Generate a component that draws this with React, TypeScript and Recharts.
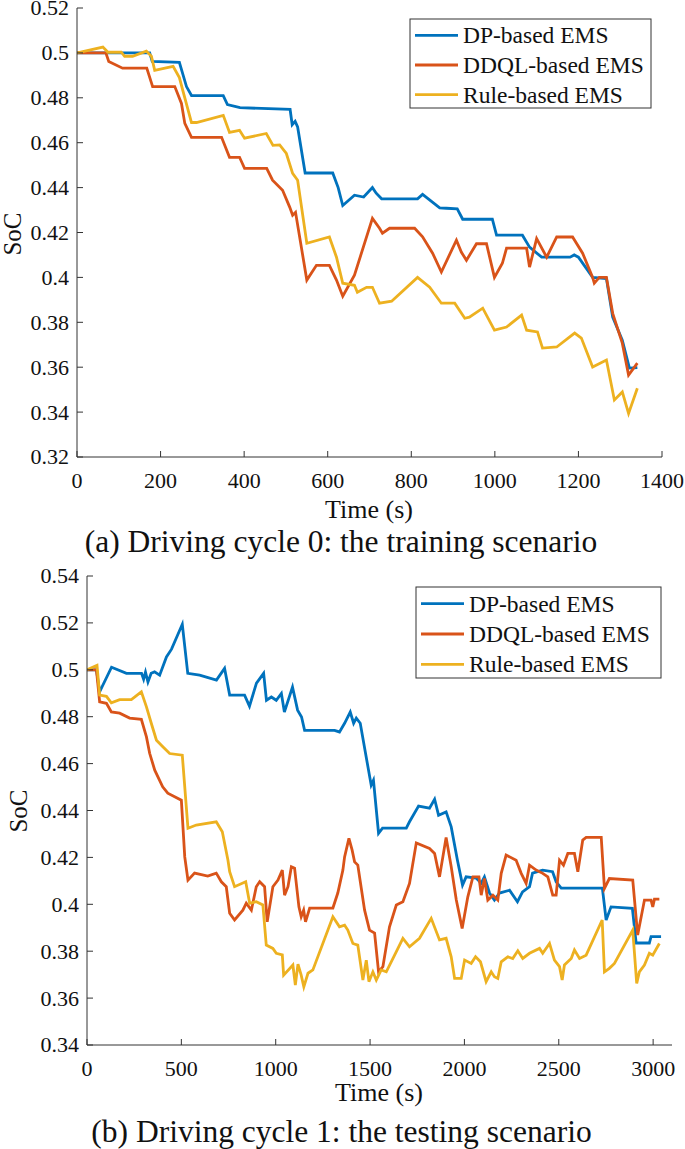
import React from 'react';
import { LineChart, Line, XAxis, YAxis } from 'recharts';

// [time (s), SoC]
const cycle0Dp: [number, number][] = [
  [0, 0.5], [174, 0.5], [180, 0.4962], [245, 0.4958], [262, 0.485], [274, 0.481], [350, 0.481],
  [360, 0.477], [390, 0.4756], [510, 0.4748], [515, 0.468], [522, 0.4695], [528, 0.467],
  [546, 0.4465], [612, 0.4465], [625, 0.44], [636, 0.432], [664, 0.4366], [686, 0.4358],
  [707, 0.44], [716, 0.4375], [729, 0.435], [815, 0.435], [827, 0.437], [868, 0.431],
  [884, 0.4308], [910, 0.4305], [923, 0.4259], [994, 0.4259], [1004, 0.4188], [1066, 0.4188],
  [1083, 0.4135], [1112, 0.409], [1180, 0.409], [1190, 0.41], [1200, 0.409], [1234, 0.4],
  [1267, 0.3995], [1282, 0.3823], [1305, 0.372], [1322, 0.3596], [1341, 0.3598],
];

const cycle0Ddql: [number, number][] = [
  [0, 0.5], [69, 0.5], [76, 0.4962], [109, 0.4932], [167, 0.4932], [181, 0.485], [234, 0.485],
  [250, 0.4775], [258, 0.4686], [274, 0.4624], [346, 0.4624], [365, 0.4535], [389, 0.4535],
  [401, 0.4486], [454, 0.4486], [468, 0.4433], [492, 0.4388], [509, 0.4313], [516, 0.4277],
  [523, 0.429], [550, 0.3988], [573, 0.4054], [604, 0.4054], [621, 0.3988], [636, 0.3916],
  [664, 0.401], [707, 0.4263], [724, 0.4219], [731, 0.4197], [748, 0.4219], [808, 0.4219],
  [827, 0.4181], [851, 0.4108], [872, 0.4024], [908, 0.4166], [920, 0.4112], [932, 0.4076],
  [956, 0.415], [980, 0.415], [999, 0.4], [1018, 0.4063], [1028, 0.413], [1076, 0.413],
  [1083, 0.4046], [1100, 0.4173], [1124, 0.409], [1148, 0.418], [1186, 0.418], [1210, 0.4108],
  [1234, 0.4], [1238, 0.3974], [1250, 0.4], [1267, 0.4], [1282, 0.384], [1305, 0.3707],
  [1320, 0.3565], [1341, 0.3618],
];

const cycle0Rule: [number, number][] = [
  [0, 0.5], [62, 0.5026], [74, 0.5003], [106, 0.5003], [114, 0.4985], [133, 0.4985],
  [166, 0.5008], [178, 0.4985], [186, 0.4922], [230, 0.494], [245, 0.489], [258, 0.48],
  [274, 0.469], [286, 0.469], [350, 0.4722], [365, 0.4646], [389, 0.4655], [401, 0.462],
  [453, 0.4641], [469, 0.4588], [485, 0.459], [501, 0.4552], [516, 0.4463], [528, 0.4433],
  [550, 0.4152], [604, 0.418], [621, 0.409], [636, 0.3974], [664, 0.3965], [671, 0.3934],
  [693, 0.3956], [707, 0.3956], [724, 0.3885], [753, 0.3894], [815, 0.4], [844, 0.3956],
  [872, 0.3885], [904, 0.3885], [928, 0.3818], [939, 0.3823], [971, 0.3863], [999, 0.3765],
  [1028, 0.3779], [1064, 0.3832], [1076, 0.3765], [1102, 0.3757], [1114, 0.3685],
  [1148, 0.369], [1191, 0.3752], [1207, 0.373], [1234, 0.3601], [1267, 0.3632],
  [1286, 0.3454], [1305, 0.349], [1320, 0.3394], [1341, 0.3506],
];

const cycle1Dp: [number, number][] = [
  [0, 0.5], [50, 0.5], [67, 0.4906], [130, 0.5011], [209, 0.4985], [289, 0.4985], [300, 0.496],
  [310, 0.499], [323, 0.4948], [340, 0.4985], [358, 0.4991], [385, 0.4977], [421, 0.5055],
  [448, 0.5088], [505, 0.5194], [534, 0.4985], [597, 0.4977], [686, 0.4956], [729, 0.5006],
  [756, 0.4892], [835, 0.4892], [861, 0.4845], [898, 0.4943], [936, 0.4985], [951, 0.487],
  [977, 0.4884], [1003, 0.487], [1030, 0.4899], [1046, 0.482], [1089, 0.4926], [1116, 0.4828],
  [1137, 0.4799], [1153, 0.4742], [1312, 0.4742], [1338, 0.4735], [1365, 0.4772],
  [1395, 0.482], [1413, 0.4772], [1427, 0.4794], [1448, 0.4772], [1476, 0.4644],
  [1506, 0.4508], [1518, 0.4529], [1545, 0.4303], [1566, 0.4325], [1692, 0.4325],
  [1709, 0.4352], [1757, 0.4419], [1815, 0.441], [1842, 0.4448], [1863, 0.438],
  [1903, 0.4394], [1930, 0.433], [1963, 0.4188], [1990, 0.4082], [2009, 0.4117],
  [2062, 0.4112], [2089, 0.409], [2106, 0.4117], [2133, 0.4048], [2159, 0.4018],
  [2186, 0.4048], [2239, 0.406], [2281, 0.4011], [2308, 0.4053], [2345, 0.4075],
  [2361, 0.4133], [2414, 0.4146], [2467, 0.4139], [2486, 0.4096], [2513, 0.4069],
  [2731, 0.4069], [2751, 0.3933], [2777, 0.3989], [2890, 0.3983], [2910, 0.3835],
  [2980, 0.3835], [2989, 0.3862], [3042, 0.3862],
];

const cycle1Ddql: [number, number][] = [
  [0, 0.5], [50, 0.5], [67, 0.4863], [103, 0.4857], [129, 0.482], [173, 0.4815], [226, 0.4794],
  [288, 0.4789], [315, 0.4714], [332, 0.4644], [359, 0.4572], [401, 0.4501], [428, 0.4474],
  [500, 0.4444], [518, 0.4202], [535, 0.4103], [570, 0.4133], [640, 0.412], [685, 0.4133],
  [712, 0.4096], [738, 0.4075], [756, 0.3962], [782, 0.3933], [826, 0.3975], [844, 0.4005],
  [871, 0.3975], [897, 0.4075], [915, 0.4096], [941, 0.4075], [955, 0.3925], [985, 0.4075],
  [1012, 0.4103], [1035, 0.4146], [1047, 0.4039], [1065, 0.4075], [1083, 0.416],
  [1100, 0.4154], [1123, 0.3989], [1135, 0.3947], [1148, 0.3975], [1158, 0.3925],
  [1180, 0.3984], [1303, 0.3984], [1329, 0.4048], [1356, 0.4146], [1365, 0.4202],
  [1388, 0.4281], [1405, 0.4231], [1418, 0.4181], [1435, 0.4167], [1471, 0.3975],
  [1497, 0.389], [1524, 0.3877], [1545, 0.3712], [1568, 0.3734], [1603, 0.3904],
  [1639, 0.3997], [1674, 0.4011], [1709, 0.4089], [1745, 0.4262], [1815, 0.4238],
  [1842, 0.4217], [1868, 0.4117], [1903, 0.4285], [1930, 0.416], [1957, 0.4018],
  [1988, 0.3897], [2018, 0.4032], [2045, 0.4117], [2077, 0.4117], [2089, 0.4039],
  [2106, 0.411], [2124, 0.4018], [2151, 0.4039], [2177, 0.4018], [2195, 0.4132],
  [2221, 0.421], [2274, 0.4188], [2301, 0.4132], [2327, 0.4089], [2345, 0.4167],
  [2380, 0.4146], [2415, 0.4132], [2442, 0.4117], [2468, 0.4039], [2486, 0.4039],
  [2504, 0.4188], [2525, 0.4167], [2548, 0.4217], [2583, 0.4217], [2601, 0.4139],
  [2627, 0.4274], [2645, 0.4285], [2725, 0.4285], [2742, 0.4068], [2768, 0.411],
  [2892, 0.4103], [2918, 0.3869], [2954, 0.4018], [2989, 0.4018], [2998, 0.3989],
  [3007, 0.4022], [3033, 0.4022],
];

const cycle1Rule: [number, number][] = [
  [0, 0.5], [53, 0.5019], [67, 0.4892], [103, 0.4887], [129, 0.4859], [173, 0.4873],
  [235, 0.4873], [288, 0.4906], [315, 0.4842], [341, 0.4771], [368, 0.47], [403, 0.4671],
  [438, 0.4643], [505, 0.4636], [535, 0.4324], [579, 0.4338], [685, 0.4352], [717, 0.4309],
  [747, 0.4188], [756, 0.4139], [782, 0.4075], [841, 0.4096], [862, 0.4004], [897, 0.4011],
  [932, 0.3997], [950, 0.3826], [985, 0.3812], [1003, 0.3791], [1035, 0.3784],
  [1042, 0.3698], [1091, 0.3741], [1104, 0.3656], [1118, 0.3745], [1135, 0.3698],
  [1149, 0.3648], [1171, 0.3706], [1197, 0.372], [1303, 0.3947], [1338, 0.3904],
  [1365, 0.3911], [1382, 0.389], [1409, 0.3833], [1435, 0.3826], [1462, 0.3677],
  [1480, 0.3762], [1494, 0.367], [1515, 0.3712], [1533, 0.3677], [1559, 0.372],
  [1586, 0.3712], [1630, 0.3783], [1674, 0.3855], [1709, 0.3819], [1762, 0.3855],
  [1824, 0.394], [1868, 0.3848], [1903, 0.3855], [1930, 0.3776], [1948, 0.3684],
  [1983, 0.3684], [2001, 0.3762], [2036, 0.3748], [2059, 0.3776], [2085, 0.3755],
  [2115, 0.367], [2142, 0.3712], [2159, 0.3691], [2177, 0.3684], [2195, 0.3755],
  [2230, 0.3776], [2256, 0.3769], [2283, 0.3802], [2309, 0.3769], [2345, 0.3791],
  [2398, 0.3812], [2415, 0.3791], [2451, 0.3833], [2477, 0.3762], [2504, 0.3734],
  [2518, 0.3677], [2530, 0.3741], [2566, 0.3769], [2583, 0.3805], [2610, 0.3769],
  [2645, 0.3783], [2730, 0.3933], [2742, 0.3712], [2768, 0.3727], [2795, 0.3748],
  [2892, 0.389], [2913, 0.3663], [2927, 0.3712], [2954, 0.3741], [2980, 0.3791],
  [2998, 0.3783], [3033, 0.3833],
];

const seriesNames = ['DP-based EMS', 'DDQL-based EMS', 'Rule-based EMS'];
const seriesColors = ['#0072BD', '#D95319', '#EDB120'];

const xTicks0 = [0, 200, 400, 600, 800, 1000, 1200, 1400];
const yTicks0 = [0.32, 0.34, 0.36, 0.38, 0.4, 0.42, 0.44, 0.46, 0.48, 0.5, 0.52];
const xTicks1 = [0, 500, 1000, 1500, 2000, 2500, 3000];
const yTicks1 = [0.34, 0.36, 0.38, 0.4, 0.42, 0.44, 0.46, 0.48, 0.5, 0.52, 0.54];

const FONT = 'Liberation Serif, Times New Roman, serif';
const AXIS = '#333333';
const INK = '#111111';

const toPoints = (pairs: [number, number][]) => pairs.map(([t, v]) => ({ t, v }));
const fmtY = (v: number) => String(Number(v.toFixed(2)));

// serif tick labels, drawn at the position recharts hands us
const XTick = ({ x, y, payload }: any) => (
  <text x={x} y={y} dy="0.71em" textAnchor="middle" fontFamily={FONT} fontSize={22} fill={INK}>
    {payload.value}
  </text>
);

const YTick = ({ x, y, payload }: any) => (
  <text x={x} y={y} dy="0.34em" textAnchor="end" fontFamily={FONT} fontSize={22} fill={INK}>
    {fmtY(payload.value)}
  </text>
);

interface PanelProps {
  top: number;
  height: number;
  margin: { top: number; right: number; left: number; bottom: number };
  xDomain: [number, number];
  yDomain: [number, number];
  xTicks: number[];
  yTicks: number[];
  series: [number, number][][];
}

const Panel: React.FC<PanelProps> = ({ top, height, margin, xDomain, yDomain, xTicks, yTicks, series }) => (
  <div style={{ position: 'absolute', left: 0, top }}>
    <LineChart width={685} height={height} margin={margin}>
      <XAxis
        dataKey="t"
        type="number"
        domain={xDomain}
        ticks={xTicks}
        interval={0}
        allowDataOverflow
        height={30}
        tickSize={-6}
        tickMargin={21}
        tick={<XTick />}
        stroke={AXIS}
      />
      <XAxis
        xAxisId="top"
        orientation="top"
        type="number"
        domain={xDomain}
        ticks={xTicks}
        interval={0}
        allowDataOverflow
        height={0}
        tickSize={-6}
        tick={false}
        stroke={AXIS}
      />
      <YAxis
        type="number"
        domain={yDomain}
        ticks={yTicks}
        interval={0}
        allowDataOverflow
        width={70}
        tickSize={-6}
        tickMargin={14}
        tick={<YTick />}
        stroke={AXIS}
      />
      <YAxis
        yAxisId="right"
        orientation="right"
        type="number"
        domain={yDomain}
        ticks={yTicks}
        interval={0}
        allowDataOverflow
        width={0}
        tickSize={-6}
        tick={false}
        stroke={AXIS}
      />
      {series.map((pairs, i) => (
        <Line
          key={seriesNames[i]}
          data={toPoints(pairs)}
          dataKey="v"
          name={seriesNames[i]}
          type="linear"
          stroke={seriesColors[i]}
          strokeWidth={2.8}
          dot={false}
          isAnimationActive={false}
        />
      ))}
    </LineChart>
  </div>
);

const LegendBox: React.FC<{ x: number; y: number; w: number; h: number }> = ({ x, y, w, h }) => {
  const row = h / 3;
  return (
    <g>
      <rect x={x} y={y} width={w} height={h} fill="#fff" stroke={AXIS} strokeWidth={1} />
      {seriesNames.map((name, i) => {
        const cy = y + row * (i + 0.55);
        return (
          <g key={name}>
            <line x1={x + 5} x2={x + 48} y1={cy} y2={cy} stroke={seriesColors[i]} strokeWidth={2.8} />
            <text x={x + 53} y={cy + 8} fontSize={23.5} fill={INK}>
              {name}
            </text>
          </g>
        );
      })}
    </g>
  );
};

export default function App() {
  return (
    <div
      style={{
        position: 'absolute',
        left: 0,
        top: 0,
        width: 685,
        height: 1149,
        background: '#fff',
        fontFamily: FONT,
      }}
    >
      <Panel
        top={0}
        height={500}
        margin={{ top: 8, right: 23, left: 7, bottom: 13 }}
        xDomain={[0, 1400]}
        yDomain={[0.32, 0.52]}
        xTicks={xTicks0}
        yTicks={yTicks0}
        series={[cycle0Dp, cycle0Ddql, cycle0Rule]}
      />
      <Panel
        top={560}
        height={530}
        margin={{ top: 16, right: 13, left: 17, bottom: 15 }}
        xDomain={[0, 3100]}
        yDomain={[0.34, 0.54]}
        xTicks={xTicks1}
        yTicks={yTicks1}
        series={[cycle1Dp, cycle1Ddql, cycle1Rule]}
      />
      <svg
        width={685}
        height={1149}
        fontFamily={FONT}
        style={{ position: 'absolute', left: 0, top: 0, pointerEvents: 'none' }}
      >
        <LegendBox x={410} y={19} w={241} h={89} />
        <LegendBox x={416} y={587} w={245} h={91} />
        <text x={21} y={234} transform="rotate(-90 21 234)" textAnchor="middle" fontSize={25} fill={INK}>
          SoC
        </text>
        <text x={27} y={811} transform="rotate(-90 27 811)" textAnchor="middle" fontSize={25} fill={INK}>
          SoC
        </text>
        <text x={369} y={518} textAnchor="middle" fontSize={26} fill={INK}>
          Time (s)
        </text>
        <text x={379} y={1101} textAnchor="middle" fontSize={26} fill={INK}>
          Time (s)
        </text>
        <text x={341} y={552} textAnchor="middle" fontSize={31.5} fill={INK}>
          (a) Driving cycle 0: the training scenario
        </text>
        <text x={341.5} y={1142} textAnchor="middle" fontSize={31.5} fill={INK}>
          (b) Driving cycle 1: the testing scenario
        </text>
      </svg>
    </div>
  );
}
